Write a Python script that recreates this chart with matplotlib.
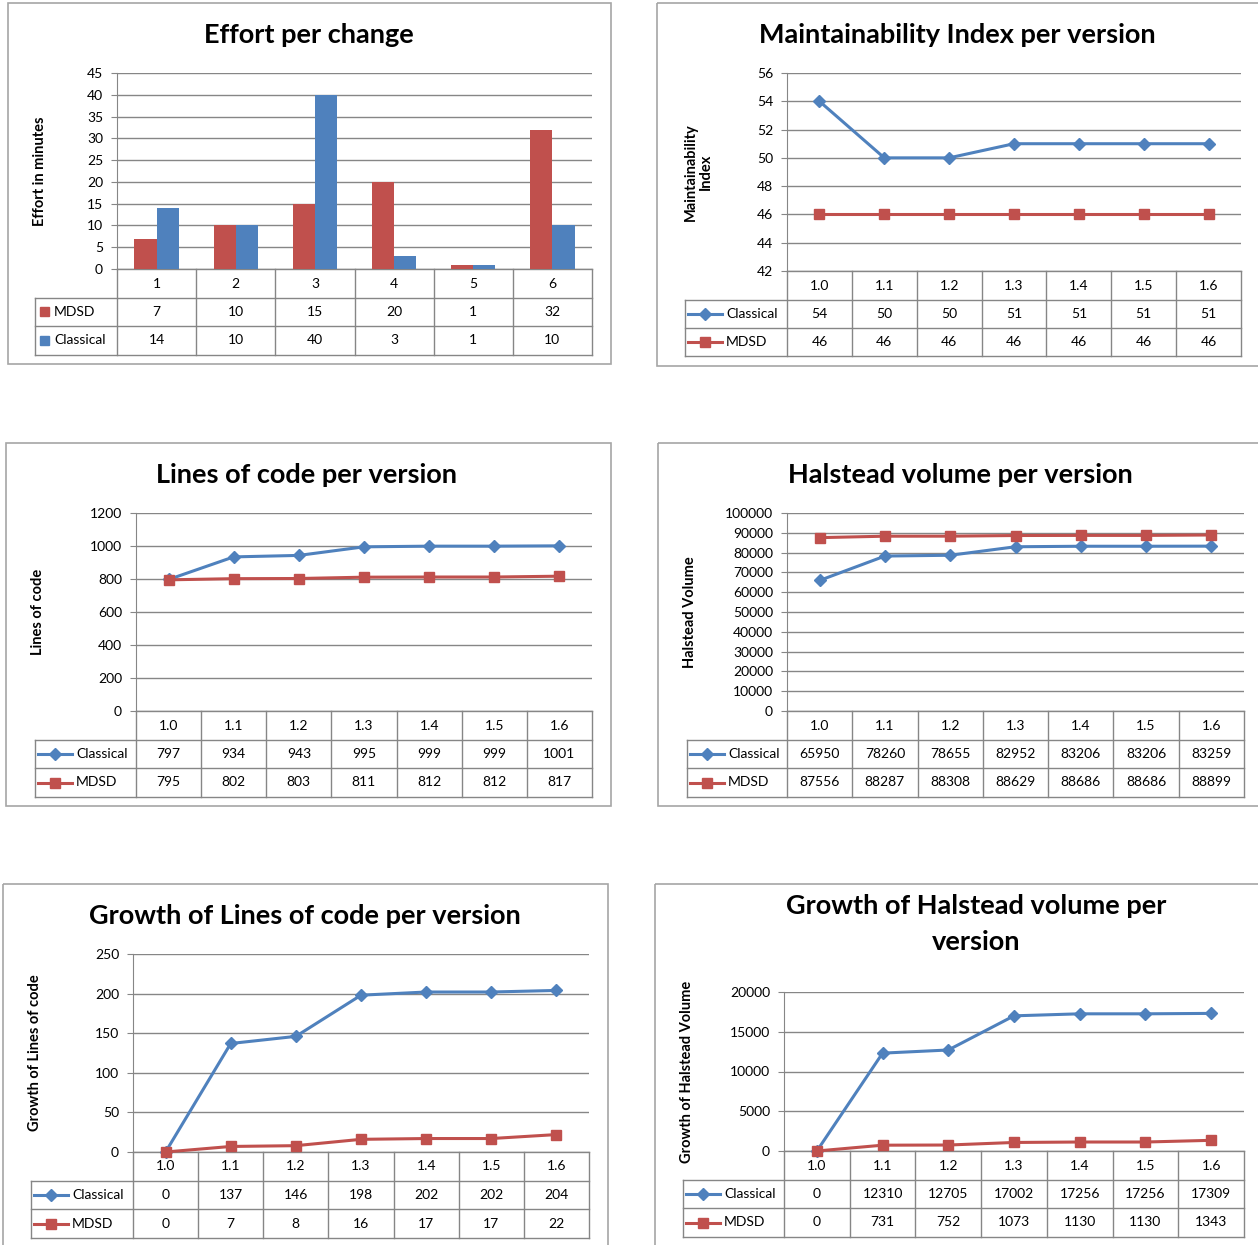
import matplotlib
matplotlib.use("Agg")
import matplotlib.pyplot as plt
import numpy as np
from matplotlib.patches import Rectangle
from matplotlib.lines import Line2D

plt.rcParams["font.family"] = ["Lato", "DejaVu Sans"]

# ---- data ----
changes = ["1", "2", "3", "4", "5", "6"]
effort_mdsd = [7, 10, 15, 20, 1, 32]
effort_classical = [14, 10, 40, 3, 1, 10]

versions = ["1.0", "1.1", "1.2", "1.3", "1.4", "1.5", "1.6"]
mi_classical = [54, 50, 50, 51, 51, 51, 51]
mi_mdsd = [46, 46, 46, 46, 46, 46, 46]
loc_classical = [797, 934, 943, 995, 999, 999, 1001]
loc_mdsd = [795, 802, 803, 811, 812, 812, 817]
hv_classical = [65950, 78260, 78655, 82952, 83206, 83206, 83259]
hv_mdsd = [87556, 88287, 88308, 88629, 88686, 88686, 88899]
gloc_classical = [0, 137, 146, 198, 202, 202, 204]
gloc_mdsd = [0, 7, 8, 16, 17, 17, 22]
ghv_classical = [0, 12310, 12705, 17002, 17256, 17256, 17309]
ghv_mdsd = [0, 731, 752, 1073, 1130, 1130, 1343]

RED = "#C0504D"
BLUE = "#4F81BD"
GRID = "#868686"
BORDER = "#A6A6A6"

W, H = 1258, 1245
fig = plt.figure(figsize=(W / 100, H / 100), dpi=100)

# overlay in pixel coordinates for frames, titles and tables
bg = fig.add_axes([0, 0, 1, 1], zorder=0)
bg.set_xlim(0, W)
bg.set_ylim(H, 0)
bg.axis("off")


def px_axes(x0, y0, x1, y1):
    return fig.add_axes([x0 / W, 1 - y1 / H, (x1 - x0) / W, (y1 - y0) / H], zorder=2)


def draw_panel(box, title, title_x, title_y, plot, ylim, step, ylabel, ylabel_x,
               label_x0, row_edges, cats, series, kind):
    bx0, by0, bx1, by1 = box
    bg.add_patch(Rectangle((bx0, by0), bx1 - bx0, by1 - by0, fill=False,
                           ec=BORDER, lw=1.2))
    for line, ty in zip(title, title_y):
        bg.text(title_x, ty, line, ha="center", va="center", fontsize=19.5,
                fontweight="bold")

    px0, py0, px1, py1 = plot
    ax = px_axes(px0, py0, px1, py1)
    n = len(cats)
    x = np.arange(n)
    if kind == "bar":
        w = 0.28
        ax.bar(x - w / 2, series[0][1], width=w, color=series[0][2], zorder=3)
        ax.bar(x + w / 2, series[1][1], width=w, color=series[1][2], zorder=3)
    else:
        for name, vals, color, marker, ms in series:
            ax.plot(x, vals, color=color, lw=2.2, marker=marker, ms=ms,
                    zorder=3, clip_on=False)
    ax.set_xlim(-0.5, n - 0.5)
    ax.set_ylim(*ylim)
    ax.set_yticks(np.arange(ylim[0], ylim[1] + step / 2, step))
    ax.set_xticks([])
    ax.yaxis.grid(True, color=GRID, lw=1)
    ax.set_axisbelow(True)
    for s in ["top", "right", "bottom"]:
        ax.spines[s].set_visible(False)
    ax.spines["left"].set_color(GRID)
    ax.tick_params(axis="y", length=4, color=GRID, labelsize=10, pad=6)
    ax.set_facecolor("none")

    # y label
    bg.text(ylabel_x, (py0 + py1) / 2, ylabel, rotation=90, ha="center",
            va="center", fontsize=10.5, fontweight="bold", linespacing=1.1)

    # data table
    colw = (px1 - px0) / n
    r0, r1, r2, r3 = row_edges
    kw = dict(color=GRID, lw=1)
    bg.add_line(Line2D([px0, px1], [r0, r0], **kw))
    for r in (r1, r2, r3):
        bg.add_line(Line2D([label_x0, px1], [r, r], **kw))
    bg.add_line(Line2D([label_x0, label_x0], [r1, r3], **kw))
    for j in range(n + 1):
        xx = px0 + j * colw
        bg.add_line(Line2D([xx, xx], [r0, r3], **kw))
    for j, c in enumerate(cats):
        bg.text(px0 + (j + 0.5) * colw, (r0 + r1) / 2, c, ha="center",
                va="center", fontsize=10)
    for k, s in enumerate(series):
        name, vals, color = s[0], s[1], s[2]
        yc = (r1 + r2) / 2 if k == 0 else (r2 + r3) / 2
        if kind == "bar":
            bg.add_patch(Rectangle((label_x0 + 5, yc - 5), 9, 9, color=color))
            tx = label_x0 + 19
        else:
            bg.add_line(Line2D([label_x0 + 3, label_x0 + 37], [yc, yc],
                               color=color, lw=2.2))
            bg.add_line(Line2D([label_x0 + 20], [yc], color=color,
                               marker=s[3], ms=s[4], lw=0))
            tx = label_x0 + 41
        bg.text(tx, yc, name, ha="left", va="center", fontsize=10)
        for j, v in enumerate(vals):
            bg.text(px0 + (j + 0.5) * colw, yc, str(v), ha="center",
                    va="center", fontsize=10)
    return ax


def line_series(classical, mdsd):
    return [("Classical", classical, BLUE, "D", 6.5),
            ("MDSD", mdsd, RED, "s", 7.5)]


draw_panel((8, 3, 611, 364), ["Effort per change"], 309, [35],
           (117, 73, 592, 269), (0, 45), 5, "Effort in minutes", 40, 35,
           (269, 298, 326, 355), changes,
           [("MDSD", effort_mdsd, RED), ("Classical", effort_classical, BLUE)],
           "bar")

draw_panel((657, 3, 1262, 366), ["Maintainability Index per version"], 957, [35],
           (787, 73, 1241, 271), (42, 56), 2, "Maintainability\nIndex", 698,
           685, (271, 300, 328, 356), versions,
           line_series(mi_classical, mi_mdsd), "line")

draw_panel((6, 443, 611, 806), ["Lines of code per version"], 307, [475],
           (136, 513, 592, 711), (0, 1200), 200, "Lines of code", 38,
           35, (711, 740, 768, 797), versions,
           line_series(loc_classical, loc_mdsd), "line")

draw_panel((658, 443, 1262, 806), ["Halstead volume per version"], 960, [475],
           (787, 513, 1244, 711), (0, 100000), 10000, "Halstead Volume", 690,
           687, (711, 740, 768, 797), versions,
           line_series(hv_classical, hv_mdsd), "line")

draw_panel((3, 884, 608, 1249), ["Growth of Lines of code per version"], 305,
           [916], (133, 954, 589, 1152), (0, 250), 50,
           "Growth of Lines of code", 35, 31, (1152, 1181, 1209, 1238),
           versions, line_series(gloc_classical, gloc_mdsd), "line")

draw_panel((655, 884, 1262, 1249), ["Growth of Halstead volume per", "version"],
           976, [906, 942], (784, 992, 1244, 1151), (0, 20000), 5000,
           "Growth of Halstead Volume", 687, 683, (1151, 1180, 1208, 1237),
           versions, line_series(ghv_classical, ghv_mdsd), "line")

fig.savefig("out.png", dpi=100, facecolor="white")
